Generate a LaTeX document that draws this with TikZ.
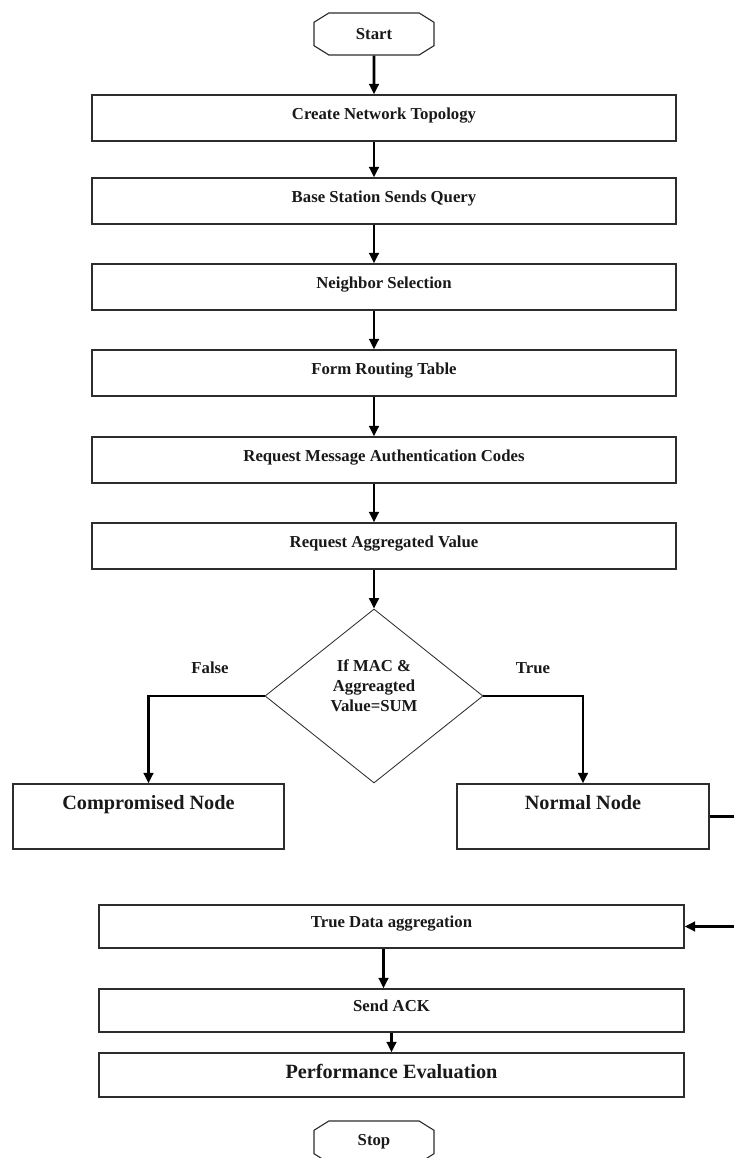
\documentclass[tikz,border=0pt]{standalone}
\usepackage{fontspec}
\setmainfont{Liberation Serif}
\usetikzlibrary{positioning,arrows.meta,shapes.geometric,shapes.misc}
\definecolor{tinta}{RGB}{25,25,25}
\definecolor{borde}{RGB}{45,45,45}

\begin{document}
\begin{tikzpicture}[
  font=\bfseries\fontsize{11.9pt}{14.3pt}\selectfont, text=tinta,
  caja/.style={draw=borde, line width=1pt, minimum width=14.6cm,
               minimum height=1.15cm, inner sep=0pt,
               text height=0.3cm, text depth=0.24cm},
  cajabaja/.style={caja, minimum width=14.625cm, minimum height=1.075cm},
  resultado/.style={draw=borde, line width=1pt, minimum height=1.625cm,
                    inner xsep=0pt, inner ysep=0.1cm, text height=0.55cm,
                    text depth=0.875cm,
                    font=\bfseries\fontsize{14.4pt}{17pt}\selectfont},
  terminal/.style={draw=borde, line width=0.8pt, chamfered rectangle,
                   chamfered rectangle angle=58,
                   chamfered rectangle xsep=0.2cm,
                   minimum width=3cm, minimum height=1.05cm, inner sep=0pt},
  rombo/.style={draw=borde, line width=0.6pt, diamond, minimum width=5.45cm,
                minimum height=4.35cm, inner sep=0pt, align=center},
  flecha/.style={line width=1.8pt, draw=black,
                 -{Triangle[length=0.26cm, width=0.24cm]}},
  etiqueta/.style={inner sep=0pt},
]
\useasboundingbox (0,0) rectangle (18.325,28.95);
% ---- Inicio y pasos ------------------------------------------------------
\node[terminal] (inicio) at (9.35,28.1) {Start};
\node[caja] (c1) at (9.6,26.0)   {Create Network Topology};
\node[caja] (c2) at (9.6,23.925) {Base Station Sends Query};
\node[caja] (c3) at (9.6,21.775) {Neighbor Selection};
\node[caja] (c4) at (9.6,19.625) {Form Routing Table};
\node[caja] (c5) at (9.6,17.45)  {Request Message Authentication Codes};
\node[caja] (c6) at (9.6,15.3)   {Request Aggregated Value};
\draw[flecha] (inicio) -- (inicio |- c1.north);
\foreach \a/\b in {c1/c2, c2/c3, c3/c4, c4/c5, c5/c6} {
  \draw[flecha] (\a.south -| inicio) -- (\b.north -| inicio);
}
% ---- Decision ------------------------------------------------------------
\node[rombo] (rombo) at (9.35,11.55)
  {If MAC \&\\Aggreagted\\Value=SUM\\\mbox{}};
\draw[flecha] (c6.south -| inicio) -- (rombo.north);
\node[etiqueta] (falso) at (5.25,12.25) {False};
\node[etiqueta] (cierto) at (13.325,12.25) {True};
\node[resultado, minimum width=6.775cm] (comprometido) at (3.7125,8.5375)
  {Compromised Node};
\node[resultado, minimum width=6.3cm] (normal) at (14.575,8.5375)
  {Normal Node};
\draw[flecha] (rombo.west) -| (comprometido.north);
\draw[flecha] (rombo.east) -| (normal.north);
% ---- Agregacion y cierre -------------------------------------------------
\node[cajabaja] (verdad) at (9.7875,5.7875) {True Data aggregation};
\node[cajabaja] (ack) at (9.7875,3.6875) {Send ACK};
\node[cajabaja, minimum height=1.1cm, text height=0.36cm, text depth=0.2cm,
      font=\bfseries\fontsize{14.4pt}{17pt}\selectfont] (evaluacion)
  at (9.7875,2.075) {Performance Evaluation};
\node[terminal] (fin) at (9.35,0.4) {Stop};
\draw[flecha] (normal.east) -- ++(0.8,0) |- (verdad.east);
\draw[flecha] ([xshift=-2mm]verdad.south) -- ([xshift=-2mm]ack.north);
\draw[flecha] (ack) -- (evaluacion);
\end{tikzpicture}
\end{document}
